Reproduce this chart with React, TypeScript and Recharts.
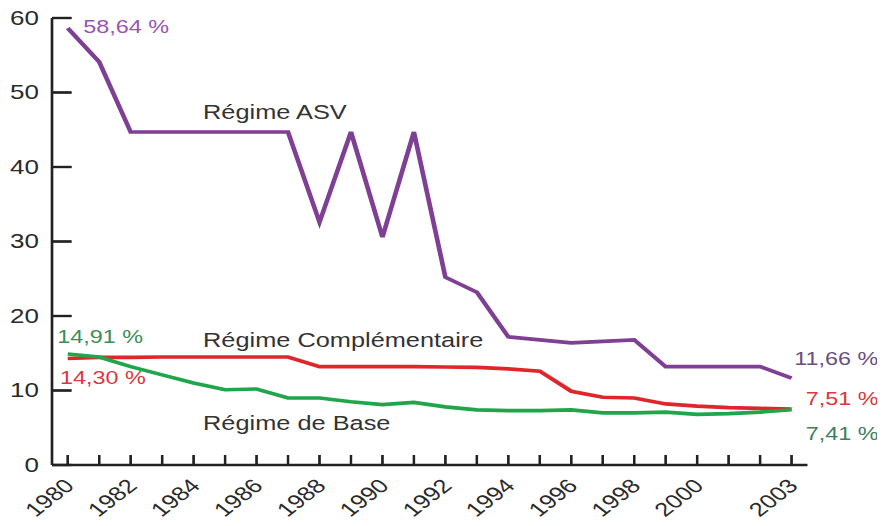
import React from 'react';
import { LineChart, Line, XAxis, YAxis, ReferenceDot, ReferenceLine } from 'recharts';

const years = [1980, 1981, 1982, 1983, 1984, 1985, 1986, 1987, 1988, 1989, 1990, 1991, 1992, 1993, 1994, 1995, 1996, 1997, 1998, 1999, 2000, 2001, 2002, 2003];
const asv = [58.64, 54.1, 44.7, 44.7, 44.7, 44.7, 44.7, 44.7, 32.6, 44.7, 30.6, 44.7, 25.2, 23.2, 17.2, 16.8, 16.4, 16.6, 16.8, 13.2, 13.2, 13.2, 13.2, 11.66];
const complementaire = [14.3, 14.45, 14.45, 14.5, 14.5, 14.5, 14.5, 14.5, 13.2, 13.2, 13.2, 13.2, 13.15, 13.1, 12.9, 12.6, 9.9, 9.1, 9.0, 8.2, 7.9, 7.7, 7.6, 7.51];
const base = [14.91, 14.5, 13.2, 12.1, 11.0, 10.1, 10.2, 9.0, 9.0, 8.5, 8.1, 8.4, 7.8, 7.4, 7.3, 7.3, 7.4, 7.0, 7.0, 7.1, 6.8, 6.9, 7.1, 7.41];
const labeledYears = [1980, 1982, 1984, 1986, 1988, 1990, 1992, 1994, 1996, 1998, 2000, 2003];
const yTicks = [0, 10, 20, 30, 40, 50, 60];
const xDomain = [1979.5, 2003.5];
const yDomain = [0, 60];

const seriesNames = ['Régime ASV', 'Régime Complémentaire', 'Régime de Base'];
const nameAnchorYear = 1984.3;
const nameAnchorValue = [46.4, 15.85, 4.7];

const data = years.map((y, i) => ({ year: y, asv: asv[i], comp: complementaire[i], base: base[i] }));

const FONT = '"Liberation Sans", Arial, Helvetica, sans-serif';
const UNDER = '#26204a';
const INK = 'url(#axisInk)';

const Stroke2 = ({ x1, y1, x2, y2, w }: any) => (
  <g>
    <line x1={x1} y1={y1} x2={x2} y2={y2} stroke={UNDER} strokeWidth={w} />
    <line x1={x1} y1={y1} x2={x2} y2={y2} stroke={INK} strokeWidth={w + 0.4} />
  </g>
);

const XTick = (props: any) => {
  const { x, y, payload } = props;
  const v = payload.value;
  const tx = x + 6;
  const ty = y + 22;
  return (
    <g>
      <Stroke2 x1={x} y1={y} x2={x} y2={y - 10} w={1.5} />
      {labeledYears.includes(v) && (
        <text
          x={tx}
          y={ty}
          textAnchor="end"
          fontSize={19.5}
          fontFamily={FONT}
          fill="#2a2a2a"
          transform={`rotate(-45 ${tx} ${ty})`}
        >
          {v}
        </text>
      )}
    </g>
  );
};

const YTick = (props: any) => {
  const { x, y, payload } = props;
  return (
    <g>
      <Stroke2 x1={x} y1={y} x2={x + 15} y2={y} w={2} />
      <text x={x - 10} y={y + 7} textAnchor="end" fontSize={20} fontFamily={FONT} fill="#2a2a2a">
        {payload.value}
      </text>
    </g>
  );
};

const axisShape = (w: number) => (p: any) => <Stroke2 x1={p.x1} y1={p.y1} x2={p.x2} y2={p.y2} w={w} />;

const textShape = (label: string, color: string, dx: number, dy: number, size: number) => (p: any) => (
  <text x={p.cx + dx} y={p.cy + dy} fontSize={size} fontFamily={FONT} fill={color}>
    {label}
  </text>
);

export default function App() {
  const last = years.length - 1;
  return (
    <div style={{ width: 681, height: 526, transform: 'scaleX(1.3)', transformOrigin: '0 0', margin: -8 }}>
      <LineChart width={681} height={526} data={data} margin={{ top: 18, right: 60, bottom: 0, left: 0 }}>
        <defs>
          <linearGradient id="axisInk" gradientUnits="userSpaceOnUse" x1="0" y1="0" x2="700" y2="0">
            <stop offset="0" stopColor="#222222" />
            <stop offset="1" stopColor="#222222" />
          </linearGradient>
        </defs>
        <XAxis
          dataKey="year"
          type="number"
          domain={xDomain}
          ticks={years}
          interval={0}
          height={61}
          tickSize={0}
          tickMargin={0}
          tickLine={false}
          axisLine={false}
          tick={<XTick />}
        />
        <YAxis
          type="number"
          domain={yDomain}
          ticks={yTicks}
          interval={0}
          width={40}
          tickSize={0}
          tickMargin={0}
          tickLine={false}
          axisLine={false}
          tick={<YTick />}
        />
        <ReferenceLine
          segment={[{ x: xDomain[0], y: yDomain[0] }, { x: xDomain[1], y: yDomain[0] }]}
          ifOverflow="visible"
          shape={axisShape(2)}
        />
        <ReferenceLine
          segment={[{ x: xDomain[0], y: yDomain[0] }, { x: xDomain[0], y: yDomain[1] }]}
          ifOverflow="visible"
          shape={axisShape(1.6)}
        />
        <Line type="linear" dataKey="asv" stroke="#7f3f94" strokeWidth={3.6} dot={false} isAnimationActive={false} />
        <Line type="linear" dataKey="comp" stroke="#e0262b" strokeWidth={3.6} dot={false} isAnimationActive={false} />
        <Line type="linear" dataKey="base" stroke="#1fa54a" strokeWidth={3.6} dot={false} isAnimationActive={false} />

        <ReferenceDot x={nameAnchorYear} y={nameAnchorValue[0]} r={0} shape={textShape(seriesNames[0], '#333', 0, 0, 19.5)} />
        <ReferenceDot x={nameAnchorYear} y={nameAnchorValue[1]} r={0} shape={textShape(seriesNames[1], '#333', 0, 0, 19.5)} />
        <ReferenceDot x={nameAnchorYear} y={nameAnchorValue[2]} r={0} shape={textShape(seriesNames[2], '#333', 0, 0, 19.5)} />

        <ReferenceDot x={years[0]} y={asv[0]} r={0} shape={textShape('58,64 %', '#9a55b3', 12, 5, 18)} />
        <ReferenceDot x={years[0]} y={base[0]} r={0} shape={textShape('14,91 %', '#3d8d58', -8, -11, 18)} />
        <ReferenceDot x={years[0]} y={complementaire[0]} r={0} shape={textShape('14,30 %', '#d8393c', -6, 26, 18)} />
        <ReferenceDot x={years[last]} y={asv[last]} r={0} shape={textShape('11,66 %', '#6a4f7c', 2, -13, 18)} />
        <ReferenceDot x={years[last]} y={complementaire[last]} r={0} shape={textShape('7,51 %', '#d8393c', 11, -4, 18)} />
        <ReferenceDot x={years[last]} y={base[last]} r={0} shape={textShape('7,41 %', '#3d8060', 11, 30, 18)} />
      </LineChart>
    </div>
  );
}
